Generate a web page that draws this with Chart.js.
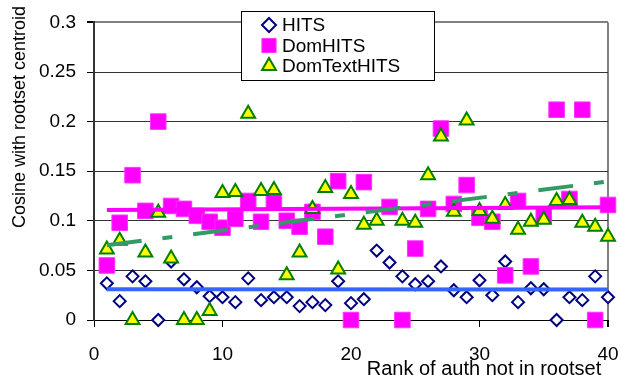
<!DOCTYPE html>
<html>
<head>
<meta charset="utf-8">
<script src="https://cdn.jsdelivr.net/npm/chart.js@4.4.0/dist/chart.umd.min.js"></script>
<style>
  html, body { margin: 0; padding: 0; background: #fff; }
  canvas { display: block; }
</style>
</head>
<body>
<canvas id="chart" width="621" height="375"></canvas>
<script>
const ranks = [1, 2, 3, 4, 5, 6, 7, 8, 9, 10, 11, 12, 13, 14, 15, 16, 17, 18, 19, 20,
  21, 22, 23, 24, 25, 26, 27, 28, 29, 30, 31, 32, 33, 34, 35, 36, 37, 38, 39, 40];

const hits = [0.037, 0.019, 0.044, 0.039, 0, 0.059, 0.041, 0.033, 0.024, 0.023,
  0.018, 0.042, 0.020, 0.023, 0.023, 0.014, 0.018, 0.015, 0.039, 0.017,
  0.021, 0.070, 0.058, 0.044, 0.036, 0.039, 0.054, 0.030, 0.023, 0.040,
  0.025, 0.059, 0.018, 0.032, 0.031, 0, 0.023, 0.020, 0.044, 0.023];

// rank 22 sits above the 0.3 top of the axis (cut off), only the trendline shows it
const domHits = [0.055, 0.098, 0.146, 0.110, 0.200, 0.115, 0.112, 0.105, 0.099, 0.093,
  0.102, 0.120, 0.099, 0.119, 0.100, 0.094, 0.109, 0.084, 0.140, 0,
  0.139, 0.32, 0.114, 0, 0.072, 0.112, 0.193, 0.117, 0.136, 0.103,
  0.099, 0.045, 0.120, 0.054, 0.105, 0.212, 0.122, 0.212, 0, 0.116];

// same for rank 23 here
const domTextHits = [0.071, 0.080, 0, 0.068, 0.108, 0.062, 0, 0, 0.009, 0.128,
  0.129, 0.208, 0.130, 0.131, 0.045, 0.068, 0.112, 0.133, 0.051, 0.127,
  0.096, 0.100, 0.47, 0.100, 0.098, 0.146, 0.185, 0.109, 0.201, 0.110,
  0.102, 0.116, 0.091, 0.099, 0.101, 0.120, 0.121, 0.098, 0.094, 0.084];

const xTicks = [0, 10, 20, 30, 40];
const yTicks = [0, 0.05, 0.1, 0.15, 0.2, 0.25, 0.3];

const FONT = "'Liberation Sans', Arial, sans-serif";

function pairs(ys) {
  return ranks.map((x, i) => ({ x: x, y: ys[i] }));
}

// least squares line over the ranks, like the spreadsheet trendline
function trend(ys) {
  let n = 0, sx = 0, sy = 0, sxx = 0, sxy = 0;
  ranks.forEach((x, i) => {
    const y = ys[i];
    if (y == null) return;
    n++; sx += x; sy += y; sxx += x * x; sxy += x * y;
  });
  const b = (n * sxy - sx * sy) / (n * sxx - sx * sx);
  const a = (sy - b * sx) / n;
  const x0 = ranks[0], x1 = ranks[ranks.length - 1];
  return [{ x: x0, y: a + b * x0 }, { x: x1, y: a + b * x1 }];
}

// markers may spill over the axes, but not above the top of the plot
const markerClip = { left: 12, right: 12, bottom: 12, top: 0 };

const series = [
  { label: 'HITS', data: pairs(hits), pointStyle: 'rectRot', pointRadius: 6,
    backgroundColor: '#ffffff', borderColor: '#000080', borderWidth: 2, order: 6 },
  { label: 'DomHITS', data: pairs(domHits), pointStyle: 'rect', pointRadius: 11,
    backgroundColor: '#ff00ff', borderColor: '#ff33ff', borderWidth: 1, order: 5 },
  { label: 'DomTextHITS', data: pairs(domTextHits), pointStyle: 'triangle', pointRadius: 8,
    backgroundColor: '#ffff00', borderColor: '#008000', borderWidth: 2, order: 4 }
].map(s => Object.assign({ clip: markerClip }, s));

const trends = [
  { data: trend(hits), borderColor: '#3366ff', borderWidth: 4, order: 3 },
  { data: trend(domHits), borderColor: '#ff00ff', borderWidth: 4, order: 2 },
  { data: trend(domTextHits), borderColor: '#339966', borderWidth: 4,
    borderDash: [35, 21, 10, 21], order: 1 }
].map(t => Object.assign({ type: 'line', showLine: true, pointRadius: 0, fill: false,
  label: '' }, t));

const decor = {
  id: 'decor',
  afterDraw(chart) {
    const ctx = chart.ctx;
    ctx.save();

    // legend box
    ctx.fillStyle = '#ffffff';
    ctx.fillRect(241, 11, 193, 69);
    ctx.strokeStyle = '#000000';
    ctx.lineWidth = 1;
    ctx.strokeRect(241.5, 11.5, 193, 69);
    ctx.font = '19px ' + FONT;
    ctx.textBaseline = 'middle';
    ctx.textAlign = 'left';
    series.forEach((s, i) => {
      const y = 25 + i * 20.5;
      ctx.fillStyle = s.backgroundColor;
      ctx.strokeStyle = s.borderColor;
      ctx.lineWidth = s.borderWidth;
      Chart.helpers.drawPoint(ctx, {
        pointStyle: s.pointStyle,
        radius: s.pointStyle === 'rect' ? 10 : (s.pointStyle === 'rectRot' ? 7 : 8),
        borderWidth: s.borderWidth, rotation: 0
      }, 269, y);
      ctx.fillStyle = '#000000';
      ctx.fillText(s.label, 282, y + 1);
    });

    // axis titles
    ctx.fillStyle = '#000000';
    ctx.font = '18px ' + FONT;
    ctx.textAlign = 'center';
    ctx.save();
    ctx.translate(20, 117);
    ctx.rotate(-Math.PI / 2);
    ctx.fillText('Cosine with rootset centroid', 0, 0);
    ctx.restore();
    ctx.font = '20px ' + FONT;
    ctx.fillText('Rank of auth not in rootset', 484, 369);
    ctx.restore();
  }
};

new Chart(document.getElementById('chart'), {
  type: 'scatter',
  data: { datasets: series.concat(trends) },
  options: {
    responsive: false,
    animation: false,
    devicePixelRatio: 1,
    layout: { padding: { top: 19, right: 13, left: 0, bottom: 0 } },
    plugins: { legend: { display: false }, tooltip: { enabled: false }, title: { display: false } },
    scales: {
      x: {
        type: 'linear', min: 0, max: 40,
        afterBuildTicks: s => { s.ticks = xTicks.map(v => ({ value: v })); },
        afterFit: s => { s.height = 55; s.paddingRight = 0; s.paddingLeft = 0; },
        ticks: { color: '#000', font: { family: FONT, size: 19 }, padding: 16, maxRotation: 0 },
        grid: {
          color: c => c.tick && c.tick.value === 40 ? '#808080' : 'rgba(0,0,0,0)',
          lineWidth: c => c.tick && c.tick.value === 40 ? 2 : 1,
          tickColor: '#000', tickLength: 7
        },
        border: { color: '#000', width: 1 }
      },
      y: {
        type: 'linear', min: 0, max: 0.3,
        afterBuildTicks: s => { s.ticks = yTicks.map(v => ({ value: v })); },
        afterFit: s => { s.width = 94; },
        ticks: { color: '#000', font: { family: FONT, size: 19 }, padding: 11,
          callback: v => String(+v.toFixed(2)) },
        grid: {
          color: c => c.tick && c.tick.value === 0.3 ? '#808080' : '#333',
          lineWidth: c => c.tick && c.tick.value === 0.3 ? 2 : 1,
          tickColor: '#000', tickLength: 7
        },
        border: { color: '#333', width: 2 }
      }
    }
  },
  plugins: [decor]
});
</script>
</body>
</html>
